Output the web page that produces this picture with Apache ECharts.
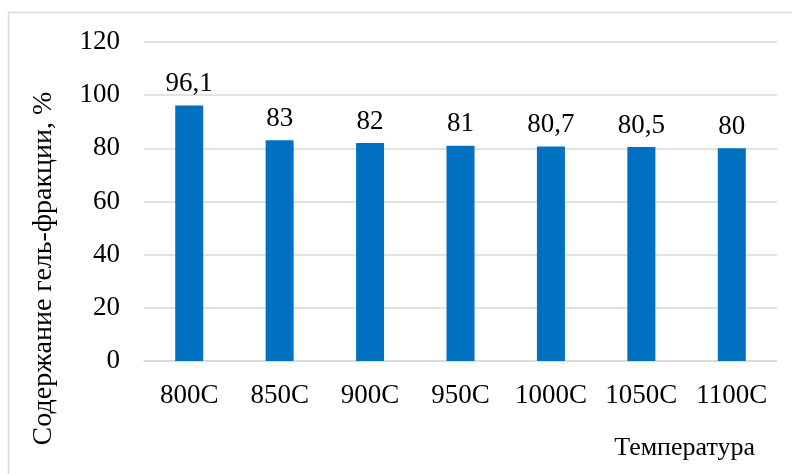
<!DOCTYPE html>
<html>
<head>
<meta charset="utf-8">
<script src="https://cdn.jsdelivr.net/npm/echarts@6/dist/echarts.min.js"></script>
<style>
  html, body { margin: 0; padding: 0; background: #fff; }
  #chart { width: 792px; height: 474px; }
</style>
</head>
<body>
<div id="chart"></div>
<script>
// температуры и содержание гель-фракции
var categories = ['800C', '850C', '900C', '950C', '1000C', '1050C', '1100C'];
var gelValues = [96.1, 83, 82, 81, 80.7, 80.5, 80];
var yTicks = [0, 20, 40, 60, 80, 100, 120];

var font = '"Liberation Serif", "Times New Roman", serif';
var fs = 27;

var myChart = echarts.init(document.getElementById('chart'));
myChart.setOption({
    animation: false,
    graphic: [{
        type: 'rect',
        shape: { x: 8.5, y: 12.5, width: 800, height: 500 },
        style: { fill: 'none', stroke: '#d9d9d9', lineWidth: 1.5 },
        silent: true
    }],
    title: {
        text: 'Температура',
        right: 37,
        top: 435,
        padding: 0,
        textStyle: { fontFamily: font, fontSize: 26, fontWeight: 'normal', color: '#000' }
    },
    grid: { left: 144, right: 15, top: 42, bottom: 113 },
    xAxis: {
        type: 'category',
        data: categories,
        axisLine: { show: true, lineStyle: { color: '#d9d9d9', width: 1.5 } },
        axisTick: { show: false },
        axisLabel: { interval: 0, color: '#000', fontFamily: font, fontSize: fs, margin: 21 }
    },
    yAxis: {
        type: 'value',
        min: yTicks[0],
        max: yTicks[yTicks.length - 1],
        interval: 20,
        name: 'Содержание гель-фракции, %',
        nameLocation: 'middle',
        nameGap: 86,
        nameTextStyle: { color: '#000', fontFamily: font, fontSize: 28, padding: [0, 134, 0, 0] },
        axisLine: { show: false },
        axisTick: { show: false },
        axisLabel: { color: '#000', fontFamily: font, fontSize: fs, margin: 24 },
        splitLine: { lineStyle: { color: '#d9d9d9', width: 1.5 } }
    },
    series: [{
        type: 'bar',
        data: gelValues,
        barWidth: 28,
        itemStyle: { color: '#0070c0' },
        label: {
            show: true,
            position: 'top',
            distance: 8,
            color: '#000',
            fontFamily: font,
            fontSize: fs,
            formatter: function (p) { return String(p.value).replace('.', ','); }
        }
    }]
});
</script>
</body>
</html>
